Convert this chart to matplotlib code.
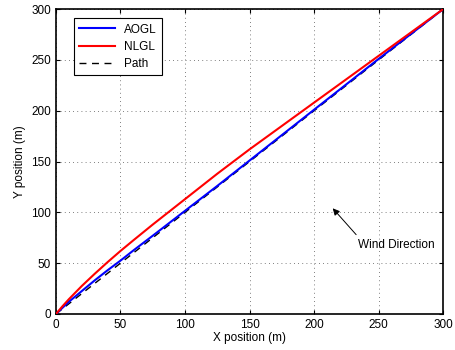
import matplotlib

matplotlib.use("Agg")
import matplotlib.pyplot as plt

plt.rcParams["font.family"] = ["Liberation Sans", "DejaVu Sans"]

# trajectories
x_pos = [0, 5, 10, 20, 30, 40, 50, 60, 75, 100, 125, 150, 200, 250, 300]
nlgl_y = [0, 7.5, 14.5, 27.5, 39.5, 51, 62, 72.5, 88, 113, 138, 162, 208, 254, 300]
aogl_y = [0, 6, 12, 22.5, 33, 43, 52.5, 62.5, 77, 101.5, 126, 151, 201, 251, 300]
path_x = [0, 300]
path_y = [0, 300]

ticks = [0, 50, 100, 150, 200, 250, 300]

fig = plt.figure(figsize=(4.55, 3.5), dpi=100)
ax = fig.add_axes([0.123, 0.103, 0.851, 0.871])

ax.plot(x_pos, aogl_y, color="#0000ff", lw=1.5, label="AOGL", zorder=3)
ax.plot(x_pos, nlgl_y, color="#ff0000", lw=1.5, label="NLGL", zorder=3)
ax.plot(path_x, path_y, color="black", lw=1.0, ls=(0, (5, 4)), label="Path", zorder=2)

ax.set_xlim(0, 300)
ax.set_ylim(0, 300)
ax.set_xticks(ticks)
ax.set_yticks(ticks)
ax.tick_params(direction="in", top=True, right=True, labelsize=8.5, length=3)
ax.grid(True, color="#555555", ls=(0, (1, 4)), lw=0.6)
for sp in ax.spines.values():
    sp.set_linewidth(1.2)

ax.set_xlabel("X position (m)", fontsize=8.5, labelpad=1)
ax.set_ylabel("Y position (m)", fontsize=8.5, labelpad=4)

ax.annotate("", xy=(213, 106), xytext=(234, 76),
            arrowprops=dict(arrowstyle="-|>", color="black", lw=0.7,
                            mutation_scale=10))
ax.text(234, 68, "Wind Direction", fontsize=8.5, va="center", ha="left")

leg = ax.legend(loc="upper left", fontsize=8.5, fancybox=False, framealpha=1,
                edgecolor="black", bbox_to_anchor=(0.047, 0.97), borderaxespad=0,
                handlelength=3, borderpad=0.45, labelspacing=0.45)
leg.get_frame().set_linewidth(0.8)

fig.savefig("out.png", dpi=100)
